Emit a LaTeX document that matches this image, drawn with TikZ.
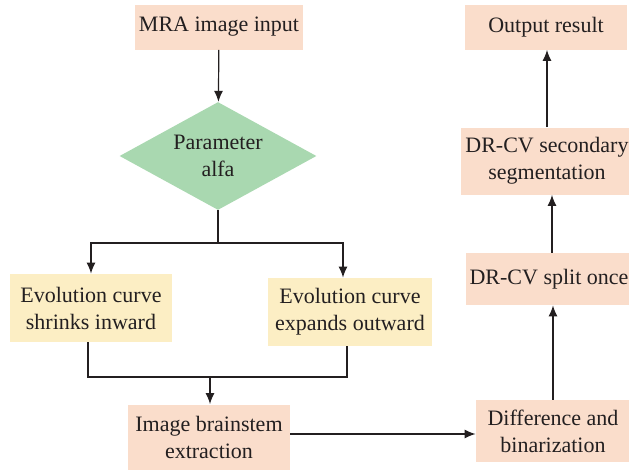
\documentclass[tikz,border=0pt]{standalone}
\usepackage{fontspec}
\setmainfont{Liberation Serif}
\usetikzlibrary{arrows.meta,shapes.geometric}
\definecolor{peach}{RGB}{250,221,203}
\definecolor{sand}{RGB}{252,238,196}
\definecolor{mint}{RGB}{169,216,176}
\definecolor{ink}{RGB}{35,31,32}
\tikzset{every node/.style={font=\fontsize{11}{13.5}\selectfont, text=ink},
         pbox/.style={fill=peach, align=center, minimum width=81pt, inner sep=2pt},
         ybox/.style={fill=sand, align=center, minimum width=81pt, minimum height=34pt},
         choice/.style={diamond, fill=mint, align=center, aspect=1.8, inner sep=0pt,
                        minimum width=98.5pt, minimum height=54pt},
         flow/.style={draw=ink, line width=0.6pt, -{Latex[length=5.5pt,width=4.5pt]}},
         link/.style={draw=ink, line width=0.6pt}}

\begin{document}
\begin{tikzpicture}[x=0.5pt, y=-0.5pt]
\useasboundingbox (0,0) rectangle (629,472);
% Left column:
\node[pbox, minimum height=22.5pt] (input) at (219,27) {MRA image input};
\node[choice] (alfa) at (218,156) {Parameter\\alfa};
\node[ybox] (shrink) at (91,308) {Evolution curve\\shrinks inward};
\node[ybox] (expand) at (350,312) {Evolution curve\\expands outward};
\node[pbox, minimum height=32.5pt] (brain) at (209,437) {Image brainstem\\extraction};
% Right column:
\node[pbox, minimum width=77pt, minimum height=31pt] (diff) at (553,431) {Difference and\\binarization};
\node[pbox, minimum width=78.5pt, minimum height=26pt] (split) at (549,279) {DR-CV split once};
\node[pbox, minimum width=80pt, minimum height=33.5pt] (second) at (547,161) {DR-CV secondary\\segmentation};
\node[pbox, minimum height=22.5pt] (output) at (546,27) {Output result};
% Branches:
\coordinate (fork) at (218,243);
\coordinate (join) at (210,377);
\draw[flow] (input) -- (alfa);
\draw[link] (alfa.south) -- (fork);
\draw[flow] (fork) -| (91,243) -- (91,243 |- shrink.north);
\draw[flow] (fork) -| (343,243) -- (343,243 |- expand.north);
\draw[link] (shrink.south -| 88,0) |- (join);
\draw[link] (expand.south -| 347,0) |- (join);
\draw[flow] (join) -- (brain.north -| join);
% Up to the result:
\draw[flow] (brain.east |- 0,434) -- (diff.west |- 0,434);
\draw[flow] (diff.north) -- (split.south -| diff.north);
\draw[flow] (split.north -| 552,0) -- (second.south -| 552,0);
\draw[flow] (second.north) -- (output.south -| second.north);
\end{tikzpicture}
\end{document}
